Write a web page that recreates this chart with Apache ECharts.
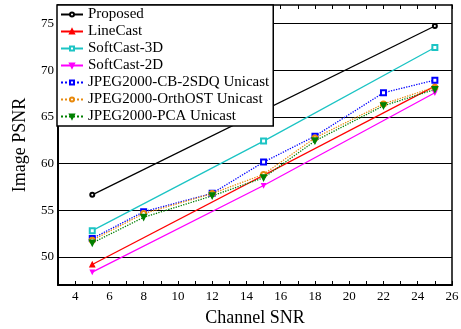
<!DOCTYPE html>
<html><head><meta charset="utf-8">
<script src="https://cdn.jsdelivr.net/npm/echarts@6/dist/echarts.min.js"></script>
<style>html,body{margin:0;padding:0;background:#fff}#c{width:461px;height:329px}</style>
</head><body><div id="c"></div>
<script>
const seriesNames = ['Proposed','LineCast','SoftCast-3D','SoftCast-2D','JPEG2000-CB-2SDQ Unicast','JPEG2000-OrthOST Unicast','JPEG2000-PCA Unicast'];
const proposedX = [5, 25];
const proposedY = [56.66, 74.75];
const lineCastX = [5, 25];
const lineCastY = [49.2, 68.3];
const softCast3dX = [5, 15, 25];
const softCast3dY = [52.82, 62.42, 72.45];
const softCast2dX = [5, 15, 25];
const softCast2dY = [48.38, 57.66, 67.6];
const jpegX = [5, 8, 12, 15, 18, 22, 25];
const cb2sdqY = [51.98, 54.85, 56.82, 60.17, 62.95, 67.6, 68.95];
const orthostY = [51.8, 54.65, 56.8, 58.85, 62.76, 66.4, 68.2];
const pcaY = [51.5, 54.25, 56.55, 58.49, 62.44, 66.2, 67.95];
const xTicks = [4,6,8,10,12,14,16,18,20,22,24,26];
const yTicks = [50,55,60,65,70,75];

const pair = (xs, ys) => xs.map((x, i) => [x, ys[i]]);
const serif = '"Liberation Serif", "Times New Roman", serif';

const mk = (name, data, color, symbol, size, dotted, extra) => Object.assign({
  name, type: 'line', data, symbol, symbolSize: size,
  itemStyle: { color, borderColor: color, borderWidth: 1.1 },
  lineStyle: { color, width: 1.3, type: dotted ? 'dotted' : 'solid' },
  emphasis: { disabled: true }, animation: false, z: 3
}, extra || {});

const chart = echarts.init(document.getElementById('c'), null, { renderer: 'canvas' });
chart.setOption({
  animation: false,
  grid: { left: 58, right: 9, top: 5, bottom: 44, containLabel: false, outerBoundsMode: 'none' },
  legend: {
    left: 57, top: 5, orient: 'vertical',
    padding: [2, 4, 2, 3], itemGap: 2, itemWidth: 22, itemHeight: 5,
    backgroundColor: '#fff', borderColor: '#000', borderWidth: 1.5,
    textStyle: { fontFamily: serif, fontSize: 15, color: '#000', lineHeight: 15 },
    data: seriesNames, z: 10
  },
  xAxis: [{
    type: 'value', min: 3, max: 26, interval: 1,
    name: 'Channel SNR', nameLocation: 'middle', nameGap: 24,
    nameTextStyle: { fontFamily: serif, fontSize: 18, color: '#000' },
    axisLine: { lineStyle: { color: '#000', width: 2 } },
    axisTick: { inside: true, length: 4, lineStyle: { color: '#000' } },
    axisLabel: { fontFamily: serif, fontSize: 13, color: '#000', margin: 5,
      formatter: v => (xTicks.indexOf(v) >= 0 ? String(v) : '') },
    splitLine: { show: false }
  }, {
    type: 'value', min: 3, max: 26, interval: 1, position: 'top',
    axisLine: { show: true, lineStyle: { color: '#000', width: 1.5 } },
    axisTick: { inside: true, length: 4, lineStyle: { color: '#000' } },
    axisLabel: { show: false }, splitLine: { show: false }
  }],
  yAxis: [{
    type: 'value', min: 47, max: 77,
    name: 'Image PSNR', nameLocation: 'middle', nameGap: 29,
    nameTextStyle: { fontFamily: serif, fontSize: 18, color: '#000' },
    axisLine: { show: true, lineStyle: { color: '#000', width: 2 } },
    axisTick: { show: false, customValues: yTicks },
    axisLabel: { fontFamily: serif, fontSize: 13, color: '#000', margin: 4, customValues: yTicks },
    splitLine: { show: true, lineStyle: { color: '#000', width: 1 } }
  }, {
    type: 'value', min: 47, max: 77, position: 'right',
    axisLine: { show: true, lineStyle: { color: '#000', width: 1.5 } },
    axisTick: { show: true, inside: true, length: 3, customValues: yTicks, lineStyle: { color: '#000' } },
    axisLabel: { show: false, customValues: yTicks }, splitLine: { show: false }
  }],
  series: [
    mk(seriesNames[0], pair(proposedX, proposedY), '#000000', 'emptyCircle', 4, false),
    mk(seriesNames[1], pair(lineCastX, lineCastY), '#ff0000', 'triangle', 5, false),
    mk(seriesNames[2], pair(softCast3dX, softCast3dY), '#1cc4c4', 'emptyRect', 5, false),
    mk(seriesNames[3], pair(softCast2dX, softCast2dY), '#ff00ff', 'triangle', 4, false, { symbolRotate: 180 }),
    mk(seriesNames[4], pair(jpegX, cb2sdqY), '#0000ff', 'emptyRect', 5, true),
    mk(seriesNames[5], pair(jpegX, orthostY), '#e8890c', 'emptyCircle', 5, true),
    mk(seriesNames[6], pair(jpegX, pcaY), '#008000', 'triangle', 6, true, { symbolRotate: 180 })
  ]
});
</script></body></html>
